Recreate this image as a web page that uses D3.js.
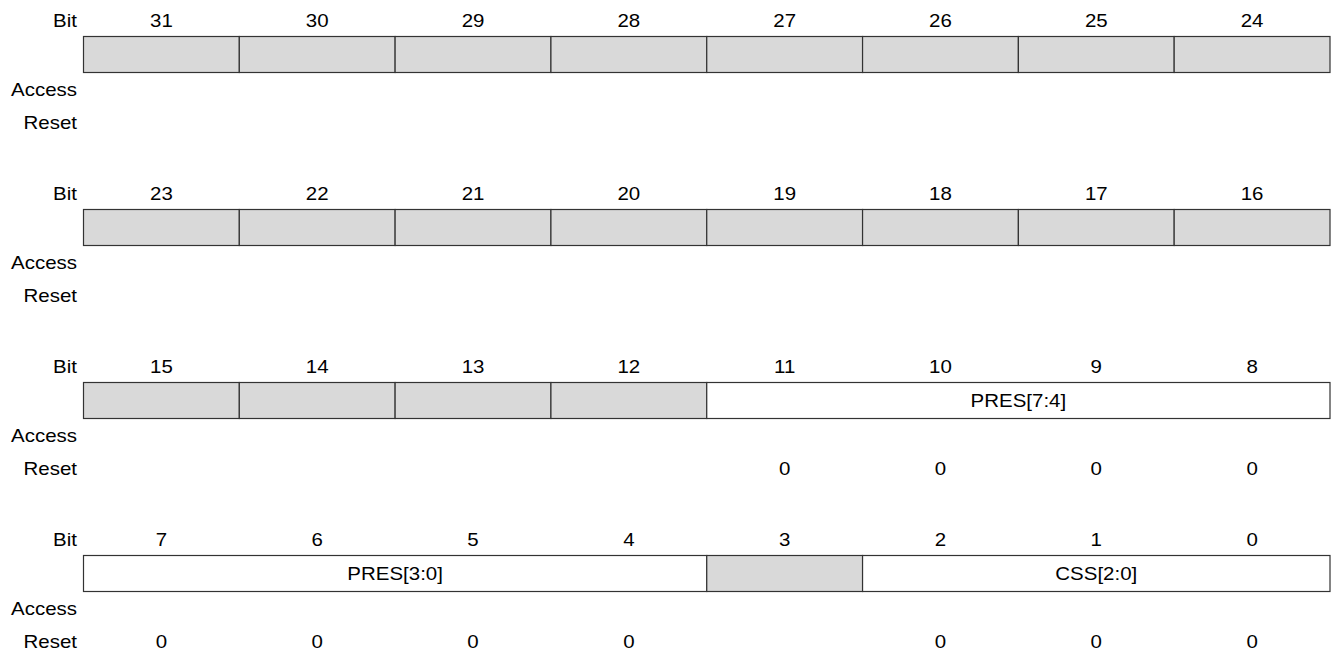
<!DOCTYPE html>
<html>
<head>
<meta charset="utf-8">
<script src="https://cdn.jsdelivr.net/npm/d3@7"></script>
<style>
  body { margin: 0; background: #fff; }
  text { font-family: "Liberation Sans", Arial, sans-serif; font-size: 17.5px; fill: #000; }
  .cell { stroke: #333; stroke-width: 1.2; }
  .reserved { fill: #d9d9d9; }
  .field { fill: #fff; }
</style>
</head>
<body>
<script>
// register layout: 4 rows of 8 bits, msb first
var rowBits = [
  [31, 30, 29, 28, 27, 26, 25, 24],
  [23, 22, 21, 20, 19, 18, 17, 16],
  [15, 14, 13, 12, 11, 10, 9, 8],
  [7, 6, 5, 4, 3, 2, 1, 0]
];

// named fields (msb, lsb) - everything else is reserved
var fieldNames = ["PRES[7:4]", "PRES[3:0]", "CSS[2:0]"];
var fieldMsb   = [11, 7, 2];
var fieldLsb   = [8, 4, 0];
var fieldReset = ["0", "0", "0"];

var rowLabels = ["Bit", "Access", "Reset"];

var width = 1331, height = 654;
var stretch = 1.17; // text in the original is a bit wide

var svg = d3.select("body").append("svg")
    .attr("width", width)
    .attr("height", height);

// Scale x over the 8 bit positions in a row
var x = d3.scaleBand().domain(d3.range(8)).range([83.5, 1330]);

// Scale y over the rows
var y = d3.scaleLinear().domain([0, 4]).range([0, 692]);

function place(px, py) {
  return "translate(" + px + "," + py + ") scale(" + stretch + ",1)";
}

function fieldOf(bit) {
  for (var i = 0; i < fieldNames.length; i++) {
    if (bit <= fieldMsb[i] && bit >= fieldLsb[i]) return i;
  }
  return -1;
}

rowBits.forEach(function(bits, r) {
  var g = svg.append("g").attr("transform", "translate(0," + y(r) + ")");

  // row labels on the left
  g.selectAll(".rowlabel")
      .data(rowLabels)
    .enter().append("text")
      .attr("class", "rowlabel")
      .attr("transform", function(d, i) { return place(77, [27, 96, 129][i]); })
      .attr("text-anchor", "end")
      .text(function(d) { return d; });

  // bit numbers
  g.selectAll(".bitnum")
      .data(bits)
    .enter().append("text")
      .attr("class", "bitnum")
      .attr("transform", function(d, i) { return place(x(i) + x.bandwidth() / 2, 27); })
      .attr("text-anchor", "middle")
      .text(function(d) { return d; });

  // group consecutive bits into segments (fields or single reserved bits)
  var segs = [];
  bits.forEach(function(b, i) {
    var f = fieldOf(b);
    var last = segs[segs.length - 1];
    if (f >= 0 && last && last.field === f) {
      last.end = i;
    } else {
      segs.push({field: f, start: i, end: i});
    }
  });

  g.selectAll(".cell")
      .data(segs)
    .enter().append("rect")
      .attr("class", function(d) { return "cell " + (d.field < 0 ? "reserved" : "field"); })
      .attr("x", function(d) { return x(d.start); })
      .attr("y", 36.5)
      .attr("width", function(d) { return x(d.end) + x.bandwidth() - x(d.start); })
      .attr("height", 36);

  g.selectAll(".fname")
      .data(segs.filter(function(d) { return d.field >= 0; }))
    .enter().append("text")
      .attr("class", "fname")
      .attr("transform", function(d) { return place((x(d.start) + x(d.end) + x.bandwidth()) / 2, 61); })
      .attr("text-anchor", "middle")
      .text(function(d) { return fieldNames[d.field]; });

  // reset values
  g.selectAll(".reset")
      .data(bits.filter(function(b) { return fieldOf(b) >= 0; }))
    .enter().append("text")
      .attr("class", "reset")
      .attr("transform", function(b) { return place(x(bits.indexOf(b)) + x.bandwidth() / 2, 129); })
      .attr("text-anchor", "middle")
      .text(function(b) { return fieldReset[fieldOf(b)]; });
});
</script>
</body>
</html>
